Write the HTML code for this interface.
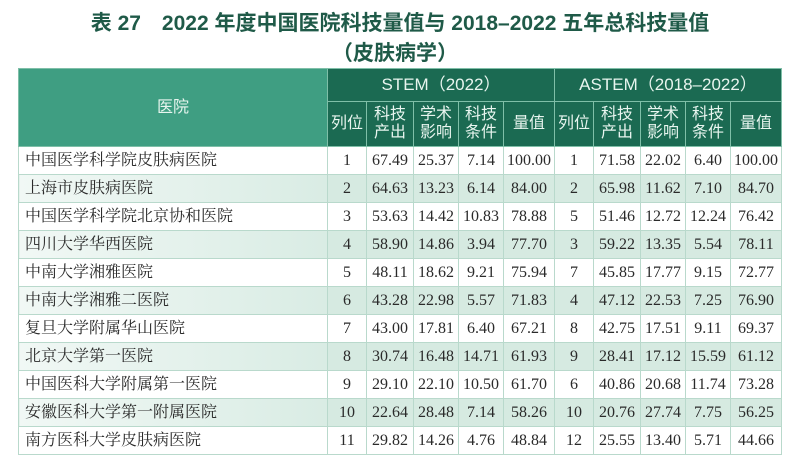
<!DOCTYPE html>
<html><head><meta charset="utf-8"><style>
body{margin:0;width:800px;height:450px;background:#fff;overflow:hidden;position:relative;font-family:"Liberation Sans","Noto Sans CJK SC",sans-serif}
.t{position:absolute;left:0;width:800px;text-align:center;color:#1f5a48;font-weight:bold;font-size:21px}
table{position:absolute;left:18px;top:68px;border-collapse:collapse;table-layout:fixed}
td{border:1px solid #b9d9cc;padding:0;text-align:center;color:#2a2a2a;font-family:"Liberation Serif","Noto Serif CJK SC",serif;font-size:16px;height:27px;line-height:27px;white-space:nowrap;overflow:hidden}
td.n{text-align:left;padding-left:6px;font-size:16px}
tr.s td{background:#d6eae1}
tr.s td.n{background:linear-gradient(90deg,#f1f8f5,#d9ece4)}
th{padding:0;color:#e8f5ef;font-weight:normal;font-size:16px;border:1px solid #7fbfa8;line-height:18px;font-family:"Liberation Sans","Noto Sans CJK SC",sans-serif;overflow:hidden;white-space:nowrap}
th.h{background:#3f9e82}
th.d{background:#1b6a52}
</style></head><body>
<div class="t" style="top:7px">表 27　2022 年度中国医院科技量值与 2018–2022 五年总科技量值</div>
<div class="t" style="top:37px;left:-5px">（皮肤病学）</div>
<table>
<colgroup><col style="width:309px"><col style="width:39px"><col style="width:47px"><col style="width:45px"><col style="width:45px"><col style="width:51px"><col style="width:39px"><col style="width:47px"><col style="width:45px"><col style="width:45px"><col style="width:51px"></colgroup>
<tr style="height:33px"><th class="h" rowspan="2">医院</th><th class="d" colspan="5" style="font-size:17px">STEM（2022）</th><th class="d" colspan="5" style="font-size:17px">ASTEM（2018–2022）</th></tr>
<tr style="height:45px"><th class="d">列位</th><th class="d">科技<br>产出</th><th class="d">学术<br>影响</th><th class="d">科技<br>条件</th><th class="d">量值</th><th class="d">列位</th><th class="d">科技<br>产出</th><th class="d">学术<br>影响</th><th class="d">科技<br>条件</th><th class="d">量值</th></tr>
<tr><td class="n">中国医学科学院皮肤病医院</td><td>1</td><td>67.49</td><td>25.37</td><td>7.14</td><td>100.00</td><td>1</td><td>71.58</td><td>22.02</td><td>6.40</td><td>100.00</td></tr>
<tr class="s"><td class="n">上海市皮肤病医院</td><td>2</td><td>64.63</td><td>13.23</td><td>6.14</td><td>84.00</td><td>2</td><td>65.98</td><td>11.62</td><td>7.10</td><td>84.70</td></tr>
<tr><td class="n">中国医学科学院北京协和医院</td><td>3</td><td>53.63</td><td>14.42</td><td>10.83</td><td>78.88</td><td>5</td><td>51.46</td><td>12.72</td><td>12.24</td><td>76.42</td></tr>
<tr class="s"><td class="n">四川大学华西医院</td><td>4</td><td>58.90</td><td>14.86</td><td>3.94</td><td>77.70</td><td>3</td><td>59.22</td><td>13.35</td><td>5.54</td><td>78.11</td></tr>
<tr><td class="n">中南大学湘雅医院</td><td>5</td><td>48.11</td><td>18.62</td><td>9.21</td><td>75.94</td><td>7</td><td>45.85</td><td>17.77</td><td>9.15</td><td>72.77</td></tr>
<tr class="s"><td class="n">中南大学湘雅二医院</td><td>6</td><td>43.28</td><td>22.98</td><td>5.57</td><td>71.83</td><td>4</td><td>47.12</td><td>22.53</td><td>7.25</td><td>76.90</td></tr>
<tr><td class="n">复旦大学附属华山医院</td><td>7</td><td>43.00</td><td>17.81</td><td>6.40</td><td>67.21</td><td>8</td><td>42.75</td><td>17.51</td><td>9.11</td><td>69.37</td></tr>
<tr class="s"><td class="n">北京大学第一医院</td><td>8</td><td>30.74</td><td>16.48</td><td>14.71</td><td>61.93</td><td>9</td><td>28.41</td><td>17.12</td><td>15.59</td><td>61.12</td></tr>
<tr><td class="n">中国医科大学附属第一医院</td><td>9</td><td>29.10</td><td>22.10</td><td>10.50</td><td>61.70</td><td>6</td><td>40.86</td><td>20.68</td><td>11.74</td><td>73.28</td></tr>
<tr class="s"><td class="n">安徽医科大学第一附属医院</td><td>10</td><td>22.64</td><td>28.48</td><td>7.14</td><td>58.26</td><td>10</td><td>20.76</td><td>27.74</td><td>7.75</td><td>56.25</td></tr>
<tr><td class="n">南方医科大学皮肤病医院</td><td>11</td><td>29.82</td><td>14.26</td><td>4.76</td><td>48.84</td><td>12</td><td>25.55</td><td>13.40</td><td>5.71</td><td>44.66</td></tr>
</table>
</body></html>
